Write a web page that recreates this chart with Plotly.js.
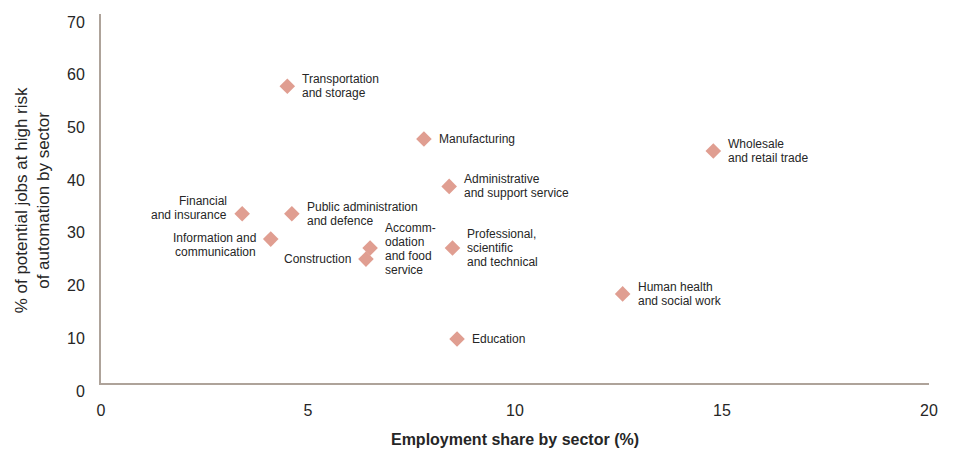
<!DOCTYPE html>
<html>
<head>
<meta charset="utf-8">
<script src="https://cdn.plot.ly/plotly-3.0.1.min.js"></script>
<style>
  html, body { margin: 0; padding: 0; background: #ffffff; }
  #chart { width: 954px; height: 450px; }
</style>
</head>
<body>
<div id="chart"></div>
<script>
// ---- Data ----
const sectors = [
  "Transportation and storage",
  "Manufacturing",
  "Wholesale and retail trade",
  "Administrative and support service",
  "Professional, scientific and technical",
  "Human health and social work",
  "Education",
  "Financial and insurance",
  "Public administration and defence",
  "Information and communication",
  "Accommodation and food service",
  "Construction"
];
const employmentShare = [4.50, 7.80, 14.79, 8.41, 8.49, 12.60, 8.60, 3.41, 4.61, 4.10, 6.50, 6.40];
const riskShare       = [56.3, 46.3, 44.0, 37.3, 25.6, 16.9, 8.35, 32.1, 32.1, 27.3, 25.6, 23.5];
const labelLines = [
  ["Transportation", "and storage"],
  ["Manufacturing"],
  ["Wholesale", "and retail trade"],
  ["Administrative", "and support service"],
  ["Professional,", "scientific", "and technical"],
  ["Human health", "and social work"],
  ["Education"],
  ["Financial", "and insurance"],
  ["Public administration", "and defence"],
  ["Information and", "communication"],
  ["Accomm-", "odation", "and food", "service"],
  ["Construction"]
];
const xTicks = [0, 5, 10, 15, 20];
const yTicks = [0, 10, 20, 30, 40, 50, 60, 70];

// ---- Label placement (style) ----
const labelSide = ["right","right","right","right","right","right","right","left","right","left","right","left"];
const labelDy   = [0, 0, 0, 0, 0, 0, 0, 6, 0, -6, -1, 0];

const FONT = "'Liberation Sans', Arial, sans-serif";
const TXT = "#262626";
const AXIS = "#aea39a";
const LINE_H = 14;

const annotations = [];
labelLines.forEach((lines, k) => {
  const n = lines.length;
  lines.forEach((line, i) => {
    const right = labelSide[k] === "right";
    annotations.push({
      x: employmentShare[k], y: riskShare[k], xref: "x", yref: "y",
      text: line, showarrow: false,
      xanchor: right ? "left" : "right", yanchor: "middle",
      align: right ? "left" : "right",
      xshift: right ? 13 : -13,
      yshift: labelDy[k] + ((n - 1) / 2 - i) * LINE_H,
      font: { family: FONT, size: 12, color: TXT }
    });
  });
});

// y-axis title as annotation
annotations.push({
  xref: "paper", yref: "paper", x: 0, y: 0.495,
  xanchor: "center", yanchor: "middle", xshift: -69,
  textangle: -90, showarrow: false,
  text: "% of potential jobs at high risk<br>of automation by sector",
  font: { family: FONT, size: 17, color: TXT }
});

const trace = {
  type: "scatter", mode: "markers",
  x: employmentShare, y: riskShare, text: sectors,
  hoverinfo: "text",
  marker: { symbol: "diamond", size: 12, color: "#e09e91", line: { width: 0 } }
};

const layout = {
  width: 954, height: 450,
  margin: { l: 101, r: 25, t: 14, b: 67 },
  paper_bgcolor: "#ffffff", plot_bgcolor: "#ffffff",
  showlegend: false,
  font: { family: FONT, color: TXT },
  xaxis: {
    range: [0, 20], tickvals: xTicks, ticktext: xTicks.map(String),
    showline: true, linecolor: AXIS, linewidth: 2,
    showgrid: false, zeroline: false, ticks: "",
    ticklabelstandoff: 12,
    tickfont: { family: FONT, size: 16, color: TXT },
    title: { text: "<b>Employment share by sector (%)</b>", standoff: 16,
             font: { family: FONT, size: 16, color: TXT } }
  },
  yaxis: {
    range: [0, 70], tickvals: yTicks, ticktext: yTicks.map(String),
    showline: true, linecolor: AXIS, linewidth: 2,
    showgrid: false, zeroline: false, ticks: "",
    ticklabelstandoff: 11, ticklabelshift: 8,
    tickfont: { family: FONT, size: 16, color: TXT }
  },
  annotations: annotations
};

Plotly.newPlot("chart", [trace], layout, { staticPlot: true, displayModeBar: false });
</script>
</body>
</html>
